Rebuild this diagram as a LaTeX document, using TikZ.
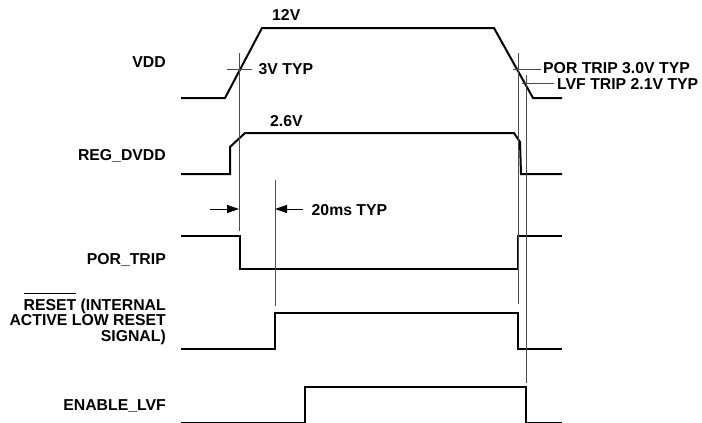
\documentclass[tikz,border=0pt]{standalone}
\usepackage{fontspec}
\setmainfont{Liberation Sans}
\usetikzlibrary{arrows.meta}
\newcommand\myovl[1]{\setbox0\hbox{#1}\rlap{\rule[\dimexpr\ht0+5pt\relax]{\wd0}{1pt}}\box0\relax}
\begin{document}
\begin{tikzpicture}[x=1pt,y=-1pt,
  sig/.style={line width=2pt,line join=miter},
  guide/.style={line width=1pt,draw=black!70},
  lbl/.style={font=\bfseries\fontsize{15.8}{15.8}\selectfont,inner sep=0pt,anchor=base east},
  ann/.style={font=\bfseries\fontsize{15.8}{15.8}\selectfont,inner sep=0pt,anchor=base west},
  arr/.style={line width=1pt,-{Triangle[length=12pt,width=8pt]}}]
\useasboundingbox (0,0) rectangle (702,423);
% labels
\node[lbl] (lvdd) at (166,67.5) {VDD};
\node[lbl] (lreg) at (166,160.7) {REG\_DVDD};
\node[lbl] (lpor) at (166,264.3) {POR\_TRIP};
\node[lbl,align=right] (lrst) at (166,341.7) {\myovl{RESET} (INTERNAL\\ACTIVE LOW RESET\\SIGNAL)};
\node[lbl] (lenb) at (166,410) {ENABLE\_LVF};
% annotations
\node[ann] (a12) at (272,20.7) {12V};
\node[ann] (a26) at (270,126) {2.6V};
\node[ann] (a3v) at (258.5,74) {3V TYP};
\node[ann] (a20) at (311.5,215) {20ms TYP};
\node[ann] (apor) at (543,73.3) {POR TRIP 3.0V TYP};
\node[ann] (alvf) at (557,89) {LVF TRIP 2.1V TYP};
% signals
\draw[sig] (181,98) -- (225,98) -- (262,28) -- (494,28) -- (533,98) -- (562,98);
\draw[sig] (181,174) -- (230,174) -- (230,147) -- (245,133) -- (514,133) -- (520,142) -- (521,174) -- (562,174);
\draw[sig] (181,236) -- (240,236) -- (240,269) -- (518,269) -- (518,236) -- (562,236);
\draw[sig] (181,349) -- (275,349) -- (275,313) -- (518,313) -- (518,349) -- (562,349);
\draw[sig] (181,423) -- (305,423) -- (305,387) -- (526,387) -- (526,423) -- (562,423);
% guides
\coordinate (g1t) at (239,53); \coordinate (g1b) at (239,231);
\coordinate (g2t) at (275,180); \coordinate (g2b) at (275,306);
\coordinate (g3t) at (518,53); \coordinate (g3b) at (518,304);
\coordinate (g4t) at (526,75); \coordinate (g4b) at (526,383);
\draw[guide] (g1t) -- (g1b);
\draw[guide] (g2t) -- (g2b);
\draw[guide] (g3t) -- (g3b);
\draw[guide] (g4t) -- (g4b);
\draw[guide] (227,69) -- (252,69);
\draw[guide] (513,69) -- (541,69);
\draw[guide] (522,83) -- (554,83);
% 20ms arrows
\coordinate (l1) at (210,209); \coordinate (l2) at (239,209);
\coordinate (r1) at (303,209); \coordinate (r2) at (275,209);
\draw[arr] (l1) -- (l2);
\draw[arr] (r1) -- (r2);
\end{tikzpicture}
\end{document}
